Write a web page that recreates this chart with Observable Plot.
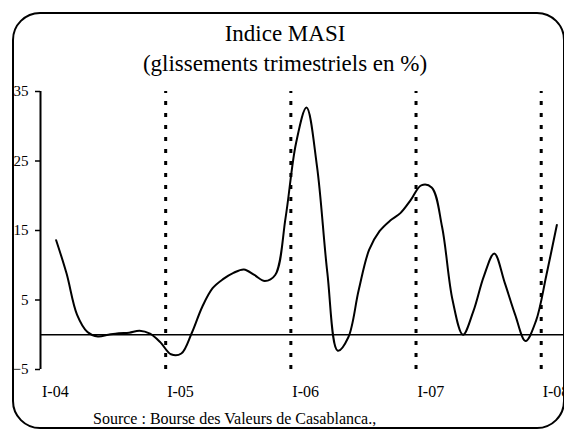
<!DOCTYPE html>
<html>
<head>
<meta charset="utf-8">
<script src="https://cdn.jsdelivr.net/npm/d3@7"></script>
<script src="https://cdn.jsdelivr.net/npm/@observablehq/plot@0.6"></script>
<style>
  html, body { margin: 0; padding: 0; background: #fff; }
  #wrap { position: relative; width: 564px; height: 430px; overflow: hidden; font-family: "Liberation Serif", "Times New Roman", serif; color: #000; }
  #frame { position: absolute; left: 12px; top: 12px; width: 553px; height: 417px; box-sizing: border-box; border: 2px solid #000; border-radius: 28px; }
  #title { position: absolute; left: 6px; width: 558px; top: 19px; text-align: center; font-size: 23px; line-height: 30px; }
  #source { position: absolute; left: 93px; top: 409px; font-size: 16px; line-height: 20px; white-space: nowrap; }
  #chart { position: absolute; left: 0; top: 0; width: 572px; height: 430px; }
  #chart svg { max-width: none !important; display: block; }
</style>
</head>
<body>
<div id="wrap">
  <div id="frame"></div>
  <div id="chart"></div>
  <div id="title">Indice MASI<br>(glissements trimestriels en %)</div>
  <div id="source">Source : Bourse des Valeurs de Casablanca.,</div>
</div>
<script>
// Period labels (first quarter of each year)
const periods = ["I-04", "I-05", "I-06", "I-07", "I-08"];
// Month index positions of the period labels / year separators
const labelPositions = [-1.5, 10.5, 22.5, 34.5, 46.5];
const separatorPositions = [10.5, 22.5, 34.5, 46.5];
// Y ticks
const yTicks = [-5, 5, 15, 25, 35];
// MASI quarterly growth (%), monthly observations Jan-04 .. Jan-08
const masi = [
  13.6, 8.8, 2.9, 0.4, -0.25, 0.0, 0.22, 0.3, 0.58, 0.15,
  -1.1, -2.8, -2.7, 0.25, 4.0, 6.7, 8.0, 8.9, 9.4, 8.6,
  7.75, 8.6, 16.9, 27.6, 32.7, 24.3, 8.9, -2.3, -0.4, 6.4,
  12.2, 14.9, 16.4, 17.5, 19.4, 21.5, 21.2, 15.5, 5.0, 0.0,
  3.4, 8.4, 11.7, 7.5, 2.9, -0.9, 2.0, 8.6, 15.8
];
const data = masi.map((v, i) => ({month: i, value: v}));

const chart = Plot.plot({
  width: 572,
  height: 430,
  marginLeft: 40,
  marginRight: 0,
  marginTop: 91,
  marginBottom: 61,
  style: {fontFamily: "Liberation Serif, Times New Roman, serif", fontSize: "15px", color: "#000", background: "transparent", overflow: "visible", maxWidth: "none"},
  x: {domain: [-1.5, 49.5]},
  y: {domain: [-5, 35]},
  marks: [
    Plot.ruleY([0], {stroke: "#000", strokeWidth: 1.5}),
    Plot.ruleX(separatorPositions, {y1: -5, y2: 35, stroke: "#000", strokeWidth: 3, strokeDasharray: "4,8"}),
    Plot.ruleX([-1.5], {y1: -5, y2: 35, stroke: "#000", strokeWidth: 2}),
    Plot.axisY({ticks: yTicks, tickSize: 5, tickPadding: 7, label: null, fontSize: 15, stroke: "#000", strokeWidth: 1.5}),
    Plot.axisX({ticks: labelPositions, tickFormat: (d, i) => periods[i], tickSize: 0, tickPadding: 16, textAnchor: "start", dx: 1.5, label: null, fontSize: 16}),
    Plot.line(data, {x: "month", y: "value", curve: "catmull-rom", stroke: "#000", strokeWidth: 2})
  ]
});
document.getElementById("chart").appendChild(chart);
</script>
</body>
</html>
